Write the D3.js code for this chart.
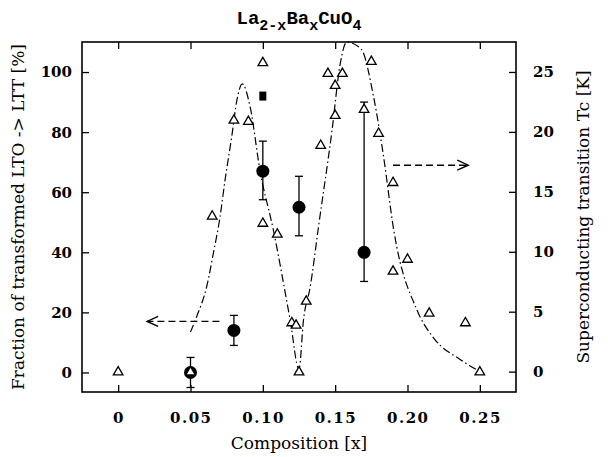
<!DOCTYPE html>
<html>
<head>
<meta charset="utf-8">
<script src="https://cdn.jsdelivr.net/npm/d3@7"></script>
<style>
  body { margin: 0; background: #fff; }
  svg { display: block; }
</style>
</head>
<body>
<svg width="608" height="457"></svg>
<script>
// tick values
const xTicks = [0, 0.05, 0.10, 0.15, 0.20, 0.25];
const xTickLabels = ["0", "0.05", "0.10", "0.15", "0.20", "0.25"];
const leftTicks = [0, 20, 40, 60, 80, 100];
const rightTicks = [0, 5, 10, 15, 20, 25];

// superconducting transition Tc [K] (open triangles)
const tcX = [0, 0.05, 0.065, 0.08, 0.09, 0.10, 0.10, 0.11, 0.12, 0.123, 0.125, 0.13,
  0.14, 0.145, 0.15, 0.15, 0.155, 0.17, 0.175, 0.18, 0.19, 0.19, 0.20, 0.215, 0.24, 0.25];
const tcY = [0, 0, 13.0, 21.0, 20.9, 25.8, 12.4, 11.5, 4.1, 3.9, 0, 5.9,
  18.9, 24.9, 23.9, 21.4, 24.9, 21.9, 25.9, 19.9, 15.8, 8.4, 9.4, 4.9, 4.1, 0];

// fraction transformed LTO -> LTT [%] (filled circles with error bars)
const fracX = [0.05, 0.08, 0.10, 0.125, 0.17];
const fracY = [0, 14, 67, 55, 40];
const fracLo = [-5, 9, 57.5, 45.5, 30.3];
const fracHi = [5, 19, 77, 65.3, 90];

// single filled square
const squareX = [0.10];
const squareY = [92];

// dash-dot guide through Tc
const guideX = [0.05, 0.0543, 0.0612, 0.066, 0.0704, 0.0739, 0.0785, 0.082, 0.0858, 0.0912,
  0.098, 0.1073, 0.1189, 0.125, 0.1281, 0.1328, 0.1385, 0.1478, 0.1535, 0.158, 0.168,
  0.1766, 0.1835, 0.1905, 0.2067, 0.2181, 0.2366, 0.25];
const guideY = [3.3, 4.6, 7.1, 10.0, 12.9, 16.0, 19.6, 22.6, 24.0, 22.1,
  16.8, 11.8, 4.3, 0.2, 4.3, 7.1, 12.1, 20.1, 25.7, 27.5, 26.9,
  22.9, 17.9, 11.8, 5.1, 2.8, 1.0, 0];

// arrows pointing at the axis each series belongs to
const arrowFrom = [0.07, 0.19];
const arrowTo = [0.02, 0.242];
const arrowLevel = [17, 69];

// fonts
const serif = "'DejaVu Serif', 'Liberation Serif', serif";
const mono = "'Liberation Mono', 'DejaVu Sans Mono', monospace";

// define chart dimensions
const margin = { top: 42, right: 92, bottom: 65, left: 82 };
const width = 608 - margin.left - margin.right;
const height = 457 - margin.top - margin.bottom;

// define scales
const x = d3.scaleLinear().domain([-0.025, 0.275]).range([0, width]);
const yLeft = d3.scaleLinear().domain([-6.5, 110]).range([height, 0]);
const yRight = d3.scaleLinear().domain([-1.7, 27.5]).range([height, 0]);

const svg = d3.select("svg")
  .append("g")
  .attr("transform", "translate(" + margin.left + "," + margin.top + ")");

// inward ticks on all four sides
const tickLen = 7;
function noLabels(axis) {
  return axis.tickSizeInner(tickLen).tickSizeOuter(0).tickFormat("");
}
svg.append("g")
  .attr("transform", "translate(0," + height + ")")
  .call(noLabels(d3.axisTop(x).tickValues(xTicks)));
svg.append("g")
  .call(noLabels(d3.axisBottom(x).tickValues(xTicks)));
svg.append("g")
  .call(noLabels(d3.axisRight(yLeft).tickValues(leftTicks)));
svg.append("g")
  .attr("transform", "translate(" + width + ",0)")
  .call(noLabels(d3.axisLeft(yRight).tickValues(rightTicks)));
svg.selectAll(".domain").remove();
svg.selectAll(".tick line").attr("stroke", "#000").attr("stroke-width", 1.3);

// frame
svg.append("rect")
  .attr("width", width)
  .attr("height", height)
  .attr("fill", "none")
  .attr("stroke", "#000")
  .attr("stroke-width", 1.6);

// tick labels
function tickText(sel) {
  sel.attr("font-family", serif)
    .attr("font-size", 15)
    .attr("font-weight", "bold")
    .attr("fill", "#000");
}
svg.append("g").selectAll("text")
  .data(xTicks)
  .join("text")
  .call(tickText)
  .attr("letter-spacing", 1.5)
  .attr("x", d => x(d) + 0.75)
  .attr("y", height + 31)
  .attr("text-anchor", "middle")
  .text((d, i) => xTickLabels[i]);
svg.append("g").selectAll("text")
  .data(leftTicks)
  .join("text")
  .call(tickText)
  .attr("x", -10)
  .attr("y", d => yLeft(d))
  .attr("dy", "0.36em")
  .attr("text-anchor", "end")
  .text(d => d);
svg.append("g").selectAll("text")
  .data(rightTicks)
  .join("text")
  .call(tickText)
  .attr("x", width + 17)
  .attr("y", d => yRight(d))
  .attr("dy", "0.36em")
  .text(d => d);

// dash-dot guide
const guide = guideX.map((d, i) => [d, guideY[i]]);
svg.append("path")
  .datum(guide)
  .attr("fill", "none")
  .attr("stroke", "#000")
  .attr("stroke-width", 1.2)
  .attr("stroke-dasharray", "8,3,1.5,3")
  .attr("d", d3.line()
    .x(d => x(d[0]))
    .y(d => yRight(d[1]))
    .curve(d3.curveMonotoneX));

// dashed arrows
const arrows = arrowFrom.map((d, i) => ({ from: d, to: arrowTo[i], level: arrowLevel[i] }));
svg.append("g").selectAll("line")
  .data(arrows)
  .join("line")
  .attr("x1", d => x(d.from))
  .attr("x2", d => x(d.to))
  .attr("y1", d => yLeft(d.level))
  .attr("y2", d => yLeft(d.level))
  .attr("stroke", "#000")
  .attr("stroke-width", 1.4)
  .attr("stroke-dasharray", "7,4");
svg.append("g").selectAll("path")
  .data(arrows)
  .join("path")
  .attr("fill", "none")
  .attr("stroke", "#000")
  .attr("stroke-width", 1.4)
  .attr("d", d => {
    const tx = x(d.to);
    const ty = yLeft(d.level);
    const s = d.to < d.from ? 1 : -1;
    return "M" + (tx + s * 11) + "," + (ty - 5) + "L" + tx + "," + ty + "L" + (tx + s * 11) + "," + (ty + 5);
  });

// error bars
const frac = fracX.map((d, i) => ({ x: d, y: fracY[i], lo: fracLo[i], hi: fracHi[i] }));
const bars = svg.append("g")
  .attr("stroke", "#000")
  .attr("stroke-width", 1.3);
bars.selectAll(".stem")
  .data(frac)
  .join("line")
  .attr("x1", d => x(d.x))
  .attr("x2", d => x(d.x))
  .attr("y1", d => yLeft(d.lo))
  .attr("y2", d => yLeft(d.hi));
bars.selectAll(".cap-lo")
  .data(frac)
  .join("line")
  .attr("class", "cap-lo")
  .attr("x1", d => x(d.x) - 4)
  .attr("x2", d => x(d.x) + 4)
  .attr("y1", d => yLeft(d.lo))
  .attr("y2", d => yLeft(d.lo));
bars.selectAll(".cap-hi")
  .data(frac)
  .join("line")
  .attr("class", "cap-hi")
  .attr("x1", d => x(d.x) - 4)
  .attr("x2", d => x(d.x) + 4)
  .attr("y1", d => yLeft(d.hi))
  .attr("y2", d => yLeft(d.hi));

// filled circles
svg.append("g").selectAll("circle")
  .data(frac)
  .join("circle")
  .attr("cx", d => x(d.x))
  .attr("cy", d => yLeft(d.y))
  .attr("r", 6.5)
  .attr("fill", "#000");

// filled square
svg.append("g").selectAll("rect")
  .data(squareX)
  .join("rect")
  .attr("x", d => x(d) - 3.5)
  .attr("y", (d, i) => yLeft(squareY[i]) - 4.5)
  .attr("width", 7)
  .attr("height", 9)
  .attr("fill", "#000");

// open triangles
const tri = d3.symbol().type(d3.symbolTriangle).size(40);
svg.append("g").selectAll("path")
  .data(tcX.map((d, i) => [d, tcY[i]]))
  .join("path")
  .attr("transform", d => "translate(" + x(d[0]) + "," + (yRight(d[1]) + 0.5) + ")")
  .attr("d", tri)
  .attr("fill", "#fff")
  .attr("stroke", "#000")
  .attr("stroke-width", 1.3);

// axis titles
function titleText(sel) {
  sel.attr("font-family", serif)
    .attr("font-size", 17)
    .attr("fill", "#000")
    .attr("text-anchor", "middle");
}
svg.append("text")
  .call(titleText)
  .attr("x", width / 2)
  .attr("y", height + 57)
  .text("Composition [x]");
svg.append("text")
  .call(titleText)
  .attr("transform", "translate(-58," + (height / 2) + ") rotate(-90)")
  .text("Fraction of transformed LTO -> LTT [%]");
svg.append("text")
  .call(titleText)
  .attr("transform", "translate(" + (width + 73) + "," + (height / 2) + ") rotate(-90)")
  .text("Superconducting transition Tc [K]");

// chart title with subscripts
const title = svg.append("text")
  .attr("font-family", mono)
  .attr("font-size", 19)
  .attr("font-weight", "bold")
  .attr("x", width / 2)
  .attr("y", -18)
  .attr("text-anchor", "middle");
[["La", false], ["2-x", true], ["Ba", false], ["x", true], ["CuO", false], ["4", true]]
  .forEach(p => {
    title.append("tspan")
      .attr("font-size", p[1] ? 15 : null)
      .attr("dy", p[1] ? 6 : (p[0] === "La" ? 0 : -6))
      .text(p[0]);
  });
</script>
</body>
</html>
